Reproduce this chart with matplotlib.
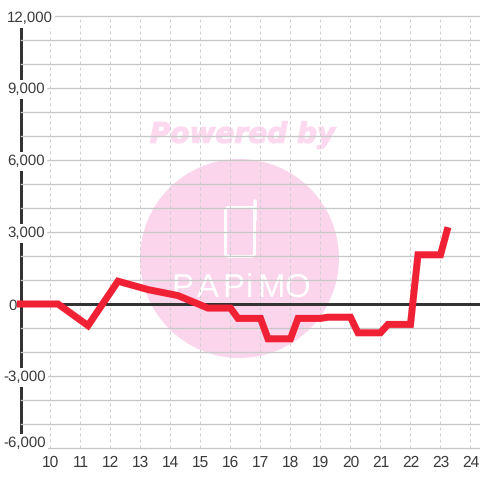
import matplotlib
matplotlib.use("Agg")
import matplotlib.pyplot as plt
import matplotlib.patheffects as pe
from matplotlib.patches import Circle, FancyBboxPatch
from matplotlib.transforms import IdentityTransform, ScaledTranslation

hours = [8.88, 10.25, 11.25, 12.25, 13.25, 14.25, 15.25, 16.0, 16.25, 17.0, 17.25,
         18.0, 18.25, 19.0, 19.25, 20.0, 20.25, 21.0, 21.25, 22.0, 22.25, 23.0, 23.25]
values = [0, 0, -900, 950, 600, 350, -170, -170, -600, -600, -1450,
          -1450, -600, -600, -550, -550, -1200, -1200, -850, -850, 2050, 2050, 3200]
x_ticks = list(range(10, 25))
y_ticks = [-6000, -3000, 0, 3000, 6000, 9000, 12000]
y_tick_labels = ["-6,000", "-3,000", "0", "3,000", "6,000", "9,000", "12,000"]
y_minor = [-5000, -4000, -2000, -1000, 1000, 2000, 4000, 5000, 7000, 8000, 10000, 11000]

plt.rcParams["font.family"] = ["Liberation Sans", "DejaVu Sans"]
plt.rcParams["text.hinting"] = "none"
DPI = 100
PX = 72 / DPI
fig = plt.figure(figsize=(4.8, 4.8), dpi=DPI, facecolor="white")
ax = fig.add_axes([20.5 / 480, 32 / 480, 459.5 / 480, 432 / 480])
ax.set_xlim(9, 24.317)
ax.set_ylim(-6000, 12000)

# watermark, placed in pixels
pink = "#fbd5ec"
I = IdentityTransform()
ax.add_patch(Circle((239.5, 221.5), 99.5, transform=I, fc=pink, ec="none", zorder=0))
ax.text(242.5, 345, "Powered by", transform=I, color="#fcd9ef", fontsize=28 * PX,
        fontfamily="DejaVu Sans", fontweight="bold", fontstyle="italic",
        ha="center", va="center", zorder=0.5,
        path_effects=[pe.withStroke(linewidth=1.2 * PX, foreground="#fcd9ef")])
ax.add_patch(FancyBboxPatch((225.5, 223.5), 29, 49, boxstyle="round,pad=0,rounding_size=3",
                            transform=I, fc="none", ec="white", lw=3 * PX, zorder=0.5))
ax.plot([254.5, 254.5], [260, 279.5], transform=I, color="white", lw=3.5 * PX,
        solid_capstyle="round", zorder=0.6)
for ch, cx in zip("PAPiMO", [182, 208, 233, 249, 271, 297]):
    ax.text(cx, 192, ch, transform=I, color="white", fontsize=33 * PX,
            fontfamily=["Liberation Sans Narrow", "Liberation Sans"],
            ha="center", va="center", zorder=0.5)

ax.set_axisbelow(False)
ax.set_xticks(x_ticks)
ax.set_yticks(y_ticks, labels=y_tick_labels)
ax.set_yticks(y_minor, minor=True)
ax.grid(True, axis="y", which="both", color="#c8c8c8", lw=1.3 * PX, clip_on=False)
ax.grid(True, axis="x", color="#cfcfcf", lw=1.0 * PX, ls=(0, (3, 3)), clip_on=False)
for line in ax.get_ygridlines():
    line.set_clip_on(False)
ax.tick_params(axis="both", which="both", length=0)
ax.tick_params(axis="x", labelsize=15.5 * PX, labelcolor="#3a3a3a", pad=7 * PX)
ax.tick_params(axis="y", labelsize=15 * PX, labelcolor="#3a3a3a", pad=13.5 * PX)

for text, val in zip(ax.get_yticklabels(), y_ticks):
    text.set_ha("left")
    text.set_bbox(dict(fc="white", ec="none", pad=1.5))
    dx = -4 if val < 0 else 0
    dy = 6 if val == -6000 else (-1 if val == 12000 else 0)
    if val == 0:
        dx = 1
    text.set_transform(text.get_transform() + ScaledTranslation(dx / DPI, dy / DPI, fig.dpi_scale_trans))

for s in ("top", "right", "bottom"):
    ax.spines[s].set_visible(False)
ax.spines["left"].set_linewidth(3 * PX)
ax.spines["left"].set_color("#333333")
ax.spines["left"].set_bounds(-5490, 11667)
ax.spines["left"].set_zorder(2)

ax.axhline(0, color="#333333", lw=3 * PX, zorder=3)
ax.plot(hours, values, color="#f02035", lw=7 * PX, zorder=4, clip_on=False,
        solid_capstyle="butt", solid_joinstyle="miter")

fig.savefig("out.png", dpi=DPI, facecolor="white")
